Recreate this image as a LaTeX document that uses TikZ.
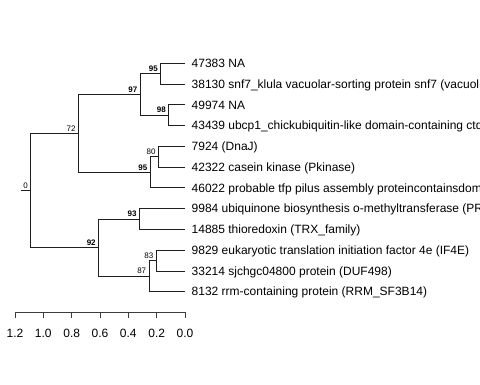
\documentclass[tikz,border=0pt]{standalone}
\usepackage{fontspec}
\setmainfont{Liberation Sans}
\usetikzlibrary{calc}
\usetikzlibrary{positioning}
\definecolor{branch}{RGB}{30, 30, 30}
\definecolor{axisgray}{RGB}{60, 60, 60}
\tikzset{
  edge/.style={draw=branch, line width=0.8pt},
  tiplabel/.style={anchor=base west, inner sep=0pt, xshift=6.5pt, yshift=-4.3pt, font=\fontsize{12}{14}\selectfont},
  support/.style={anchor=south east, inner sep=0pt, xshift=-2.6pt, yshift=2pt, font=\fontsize{8}{9}\selectfont},
  strong/.style={support, font=\fontsize{8}{9}\selectfont\bfseries},
  ticklabel/.style={anchor=base, inner sep=0pt, font=\fontsize{12}{14}\selectfont}
}

\begin{document}
\begin{tikzpicture}[x=1pt,y=-1pt]
            \clip (0,0) rectangle (480,384);
            % internal nodes
            \coordinate (root) at ( 30.7,190.46);
            \coordinate (n72)  at ( 78.3,133.37);
            \coordinate (n97)  at (140.0, 94.44);
            \coordinate (n95a) at (160.5, 73.68);
            \coordinate (n98)  at (168.5,115.20);
            \coordinate (n95b) at (150.0,172.29);
            \coordinate (n80)  at (158.3,156.72);
            \coordinate (n92)  at ( 98.5,247.55);
            \coordinate (n93)  at (139.3,219.00);
            \coordinate (n87)  at (149.0,276.09);
            \coordinate (n83)  at (156.0,260.52);
            \coordinate (stub) at ( 20.7,190.46);
            % tips
            \coordinate (t47383) at (185, 63.30);
            \coordinate (t38130) at (185, 84.06);
            \coordinate (t49974) at (185,104.82);
            \coordinate (t43439) at (185,125.58);
            \coordinate (t7924)  at (185,146.34);
            \coordinate (t42322) at (185,167.10);
            \coordinate (t46022) at (185,187.86);
            \coordinate (t9984)  at (185,208.62);
            \coordinate (t14885) at (185,229.38);
            \coordinate (t9829)  at (185,250.14);
            \coordinate (t33214) at (185,270.90);
            \coordinate (t8132)  at (185,291.66);

            \draw[edge] (stub) -- (root);
            \draw[edge] (root) |- (n72);
            \draw[edge] (root) |- (n92);
            \draw[edge] (n72)  |- (n97);
            \draw[edge] (n72)  |- (n95b);
            \draw[edge] (n97)  |- (n95a);
            \draw[edge] (n97)  |- (n98);
            \draw[edge] (n95a) |- (t47383);
            \draw[edge] (n95a) |- (t38130);
            \draw[edge] (n98)  |- (t49974);
            \draw[edge] (n98)  |- (t43439);
            \draw[edge] (n95b) |- (n80);
            \draw[edge] (n95b) |- (t46022);
            \draw[edge] (n80)  |- (t7924);
            \draw[edge] (n80)  |- (t42322);
            \draw[edge] (n92)  |- (n93);
            \draw[edge] (n92)  |- (n87);
            \draw[edge] (n93)  |- (t9984);
            \draw[edge] (n93)  |- (t14885);
            \draw[edge] (n87)  |- (n83);
            \draw[edge] (n87)  |- (t8132);
            \draw[edge] (n83)  |- (t9829);
            \draw[edge] (n83)  |- (t33214);

            % support values
            \node[support] (s0)   at (root) {0};
            \node[support] (s72)  at (n72)  {72};
            \node[strong]  (s97)  at (n97)  {97};
            \node[strong]  (s95a) at (n95a) {95};
            \node[strong]  (s98)  at (n98)  {98};
            \node[strong]  (s95b) at (n95b) {95};
            \node[support] (s80)  at (n80)  {80};
            \node[strong]  (s92)  at (n92)  {92};
            \node[strong]  (s93)  at (n93)  {93};
            \node[support] (s87)  at (n87)  {87};
            \node[support] (s83)  at (n83)  {83};

            % tip labels
            \node[tiplabel] (l47383) at (t47383) {47383 NA};
            \node[tiplabel] (l38130) at (t38130) {38130 snf7\_klula vacuolar-sorting protein snf7 (vacuol};
            \node[tiplabel] (l49974) at (t49974) {49974 NA};
            \node[tiplabel] (l43439) at (t43439) {43439 ubcp1\_chickubiquitin-like domain-containing ctd};
            \node[tiplabel] (l7924)  at (t7924)  {7924 (DnaJ)};
            \node[tiplabel] (l42322) at (t42322) {42322 casein kinase (Pkinase)};
            \node[tiplabel] (l46022) at (t46022) {46022 probable tfp pilus assembly proteincontainsdom};
            \node[tiplabel] (l9984)  at (t9984)  {9984 ubiquinone biosynthesis o-methyltransferase (PR};
            \node[tiplabel] (l14885) at (t14885) {14885 thioredoxin (TRX\_family)};
            \node[tiplabel] (l9829)  at (t9829)  {9829 eukaryotic translation initiation factor 4e (IF4E)};
            \node[tiplabel] (l33214) at (t33214) {33214 sjchgc04800 protein (DUF498)};
            \node[tiplabel] (l8132)  at (t8132)  {8132 rrm-containing protein (RRM\_SF3B14)};

            % scale axis
            \coordinate (axl) at ( 15,312.3);
            \coordinate (axr) at (185,312.3);
            \draw[edge, draw=axisgray] (axl) -- (axr);
            \foreach \px/\val [count=\i] in {15/1.2, 43.33/1.0, 71.67/0.8, 100/0.6, 128.33/0.4, 156.67/0.2, 185/0.0}{
                \draw[edge, draw=axisgray] (\px,312.3) -- (\px,318.3);
                \node[ticklabel] (tick\i) at (\px,337.6) {\val};
            }
        \end{tikzpicture}
\end{document}
